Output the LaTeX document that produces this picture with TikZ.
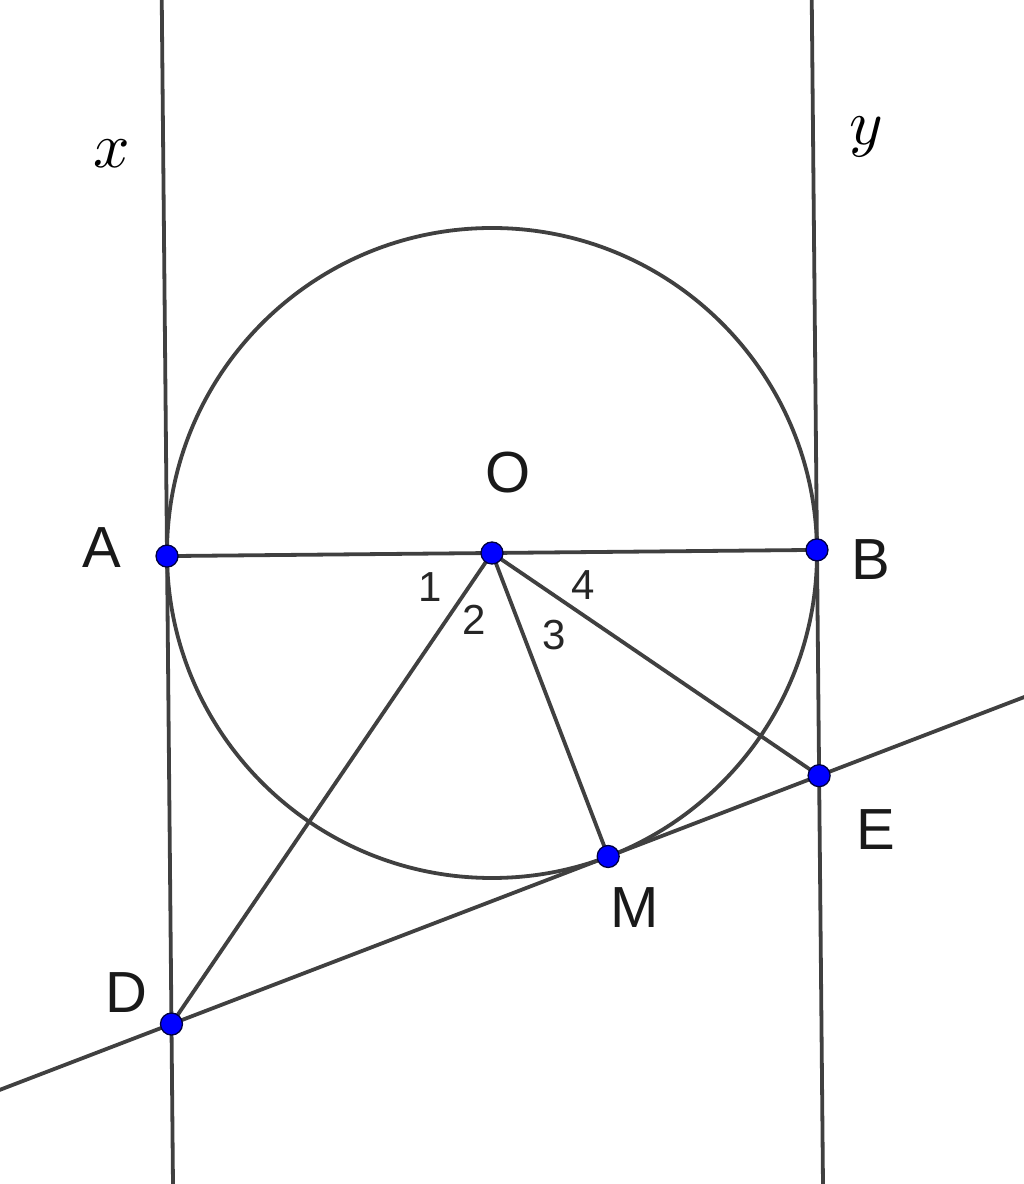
\documentclass[tikz,border=0pt]{standalone}
\usepackage{graphicx}
\usepackage{fontspec}
\setmainfont{Liberation Sans}
\usetikzlibrary{calc}
\definecolor{lin}{HTML}{404040}
\definecolor{ptfill}{RGB}{0,0,255}
\begin{document}
\begin{tikzpicture}[x=1pt,y=1pt,
  geo/.style={draw=lin,line width=3.8pt},
  pt/.style={circle,fill=ptfill,draw=black!75!blue,line width=1.3pt,inner sep=0pt,minimum size=22pt},
  lbl/.style={font=\fontsize{58}{58}\selectfont,text=black!90,inner sep=0pt},
  num/.style={font=\fontsize{42}{42}\selectfont,text=black!85,inner sep=0pt},
  mathlbl/.style={inner sep=0pt}]
\useasboundingbox (0,0) rectangle (1024,1184);
\begin{scope}[shift={(492,631)},rotate=0.544]
  \coordinate (O) at (0,0);
  \coordinate (A) at (-325,0);
  \coordinate (B) at (325,0);
  \coordinate (M) at (-69.6:325);
  \coordinate (D) at (-325,-468);
  \coordinate (E) at (325,-225.8);
  \coordinate (xtop) at (-325,800);
  \coordinate (xbot) at (-325,-800);
  \coordinate (ytop) at (325,800);
  \coordinate (ybot) at (325,-800);
\end{scope}
\coordinate (tL) at ($(D)!-1!(E)$);
\coordinate (tR) at ($(E)!-1!(D)$);
\begin{scope}
  \clip (0,0) rectangle (1024,1184);
  \draw[geo] (O) circle[radius=325];
  \draw[geo] (xtop) -- (xbot);
  \draw[geo] (ytop) -- (ybot);
  \draw[geo] (tL) -- (tR);
  \draw[geo] (A) -- (B);
  \draw[geo] (O) -- (D);
  \draw[geo] (O) -- (M);
  \draw[geo] (O) -- (E);
\end{scope}
\node[pt] (pA) at (A) {};
\node[pt] (pB) at (B) {};
\node[pt] (pO) at (O) {};
\node[pt] (pM) at (M) {};
\node[pt] (pD) at (D) {};
\node[pt] (pE) at (E) {};
\node[lbl] (lA) at (102,636) {A};
\node[lbl] (lB) at (871,624) {B};
\node[lbl] (lO) at (508,711) {O};
\node[lbl] (lM) at (635,276) {M};
\node[lbl] (lE) at (876,354) {E};
\node[lbl] (lD) at (126,191) {D};
\node[num] (n1) at (430,597) {1};
\node[num] (n2) at (474,564) {2};
\node[num] (n3) at (554,549) {3};
\node[num] (n4) at (583,599) {4};
\node[mathlbl] (lx) at (112,1030) {\scalebox{6.4}{$x$}};
\node[mathlbl] (ly) at (866,1047) {\scalebox{6.4}{$y$}};
\end{tikzpicture}
\end{document}
